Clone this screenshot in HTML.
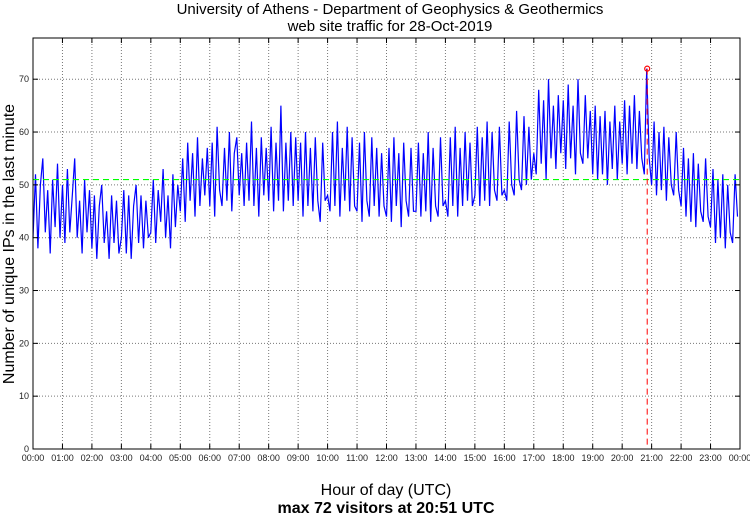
<!DOCTYPE html>
<html><head><meta charset="utf-8"><style>
body{margin:0;background:#fff;width:750px;height:515px;overflow:hidden}
svg{display:block;font-family:"Liberation Sans",sans-serif}
</style></head><body>
<svg id="chart" width="750" height="515" viewBox="0 0 750 515" xmlns="http://www.w3.org/2000/svg">
<text x="390" y="14" font-size="15" text-anchor="middle">University of Athens - Department of Geophysics &amp; Geothermics</text>
<text x="390" y="31" font-size="15" text-anchor="middle">web site traffic for 28-Oct-2019</text>
<g id="grid"></g>
<g id="series"></g>
<g id="axes"></g>
<text x="386" y="495" font-size="16" text-anchor="middle">Hour of day (UTC)</text>
<text x="386" y="513" font-size="16" text-anchor="middle" font-weight="bold">max 72 visitors at 20:51 UTC</text>
<text transform="translate(14,244) rotate(-90)" font-size="16" text-anchor="middle">Number of unique IPs in the last minute</text>
</svg>
<script>
// 5-minute samples of unique IPs per minute (estimated)
const values = [
40,52,38,50,55,41,49,37,51,42,54,40, 50,39,53,41,48,55,40,47,37,51,41,49,
38,48,36,46,50,39,45,36,48,39,47,37, 40,49,37,48,36,46,50,39,48,38,47,40,
41,51,39,49,43,53,40,48,38,52,42,50, 45,55,43,58,47,56,44,59,46,55,48,57,
46,58,44,61,49,46,57,47,60,45,56,59, 48,56,46,58,47,62,46,57,44,59,48,57,
47,61,45,58,47,65,45,58,47,60,46,59, 47,58,44,60,46,57,45,59,47,43,58,47,
48,45,60,46,62,44,57,47,61,45,59,46, 45,58,43,60,47,44,59,46,57,44,56,46,
44,57,43,59,46,56,42,58,47,44,57,45, 45,58,44,56,45,60,43,57,46,44,59,46,
47,44,59,46,61,44,57,46,60,47,58,46, 48,61,46,59,47,62,46,60,49,47,61,48,
49,47,62,50,48,64,51,49,63,50,61,51, 56,52,68,54,66,51,70,55,65,53,67,56,
66,53,69,55,65,52,70,56,54,67,55,64, 52,65,51,63,52,64,50,62,53,65,51,62,
54,66,52,65,54,67,53,64,55,52,72,55, 50,62,48,60,49,61,47,59,50,48,60,49,
46,57,44,55,43,56,42,54,45,43,55,44, 42,53,39,51,40,52,38,50,41,39,52,44
];
const hourLabels = ["00:00","01:00","02:00","03:00","04:00","05:00","06:00","07:00","08:00","09:00","10:00","11:00","12:00","13:00","14:00","15:00","16:00","17:00","18:00","19:00","20:00","21:00","22:00","23:00","00:00"];
const yTicks = [0,10,20,30,40,50,60,70];
const meanValue = [51];
const maxValue = [72];
const maxMinute = [20*60+51];

const L=33,R=740,T=38,B=449;
const xS = m => L + (R-L)*m/1440;
const yS = v => B - v*(B-T)/77.8;
const NS="http://www.w3.org/2000/svg";
function mk(tag,attrs,parent){const e=document.createElementNS(NS,tag);for(const k in attrs)e.setAttribute(k,attrs[k]);parent.appendChild(e);return e;}
const grid=document.getElementById('grid'),axes=document.getElementById('axes'),series=document.getElementById('series');

hourLabels.forEach((lab,i)=>{
  const x=xS(i*60);
  if(i>0&&i<24){const g=mk('line',{x1:x,x2:x,y1:T,y2:B,stroke:'#777','stroke-dasharray':'1,2','stroke-width':1},grid);
    
    }
  const t1=mk('line',{x1:x,x2:x,y1:B,y2:B-5,stroke:'#000'},axes);
  
  
  const t2=mk('line',{x1:x,x2:x,y1:T,y2:T+5,stroke:'#000'},axes);
  
  
  const tx=mk('text',{x:x,y:461,'font-size':9,'text-anchor':'middle',fill:'#222'},axes);
  tx.textContent=lab;
  
  
});
yTicks.forEach(v=>{
  const y=yS(v);
  if(v>0){const g=mk('line',{x1:L,x2:R,y1:y,y2:y,stroke:'#777','stroke-dasharray':'1,2','stroke-width':1},grid);
    
    }
  const t1=mk('line',{x1:L,x2:L+5,y1:y,y2:y,stroke:'#000'},axes);
  
  
  const t2=mk('line',{x1:R,x2:R-5,y1:y,y2:y,stroke:'#000'},axes);
  
  
  const tx=mk('text',{x:L-4,y:y+3,'font-size':9,'text-anchor':'end',fill:'#222'},axes);
  tx.textContent=v;
  
  
});
const frame=mk('rect',{x:L,y:T,width:R-L,height:B-T,fill:'none',stroke:'#000','stroke-width':1},axes);



const step=1440/values.length;
const pts=values.map((v,i)=>xS(i*step).toFixed(1)+','+yS(v).toFixed(1)).join(' ');
const line=mk('polyline',{points:pts,fill:'none',stroke:'#0000ff','stroke-width':1.2},series);



const mean=mk('line',{x1:L,x2:R,y1:yS(meanValue[0]),y2:yS(meanValue[0]),stroke:'#00ff00','stroke-dasharray':'6,4','stroke-width':1.2},series);



const mx=xS(maxMinute[0]);
const vl=mk('line',{x1:mx,x2:mx,y1:yS(maxValue[0]),y2:B,stroke:'#ff0000','stroke-dasharray':'6,4','stroke-width':1},series);


const c=mk('circle',{cx:mx,cy:yS(maxValue[0]),r:2.5,fill:'none',stroke:'#ff0000','stroke-width':1.2},series);


</script>
</body></html>
